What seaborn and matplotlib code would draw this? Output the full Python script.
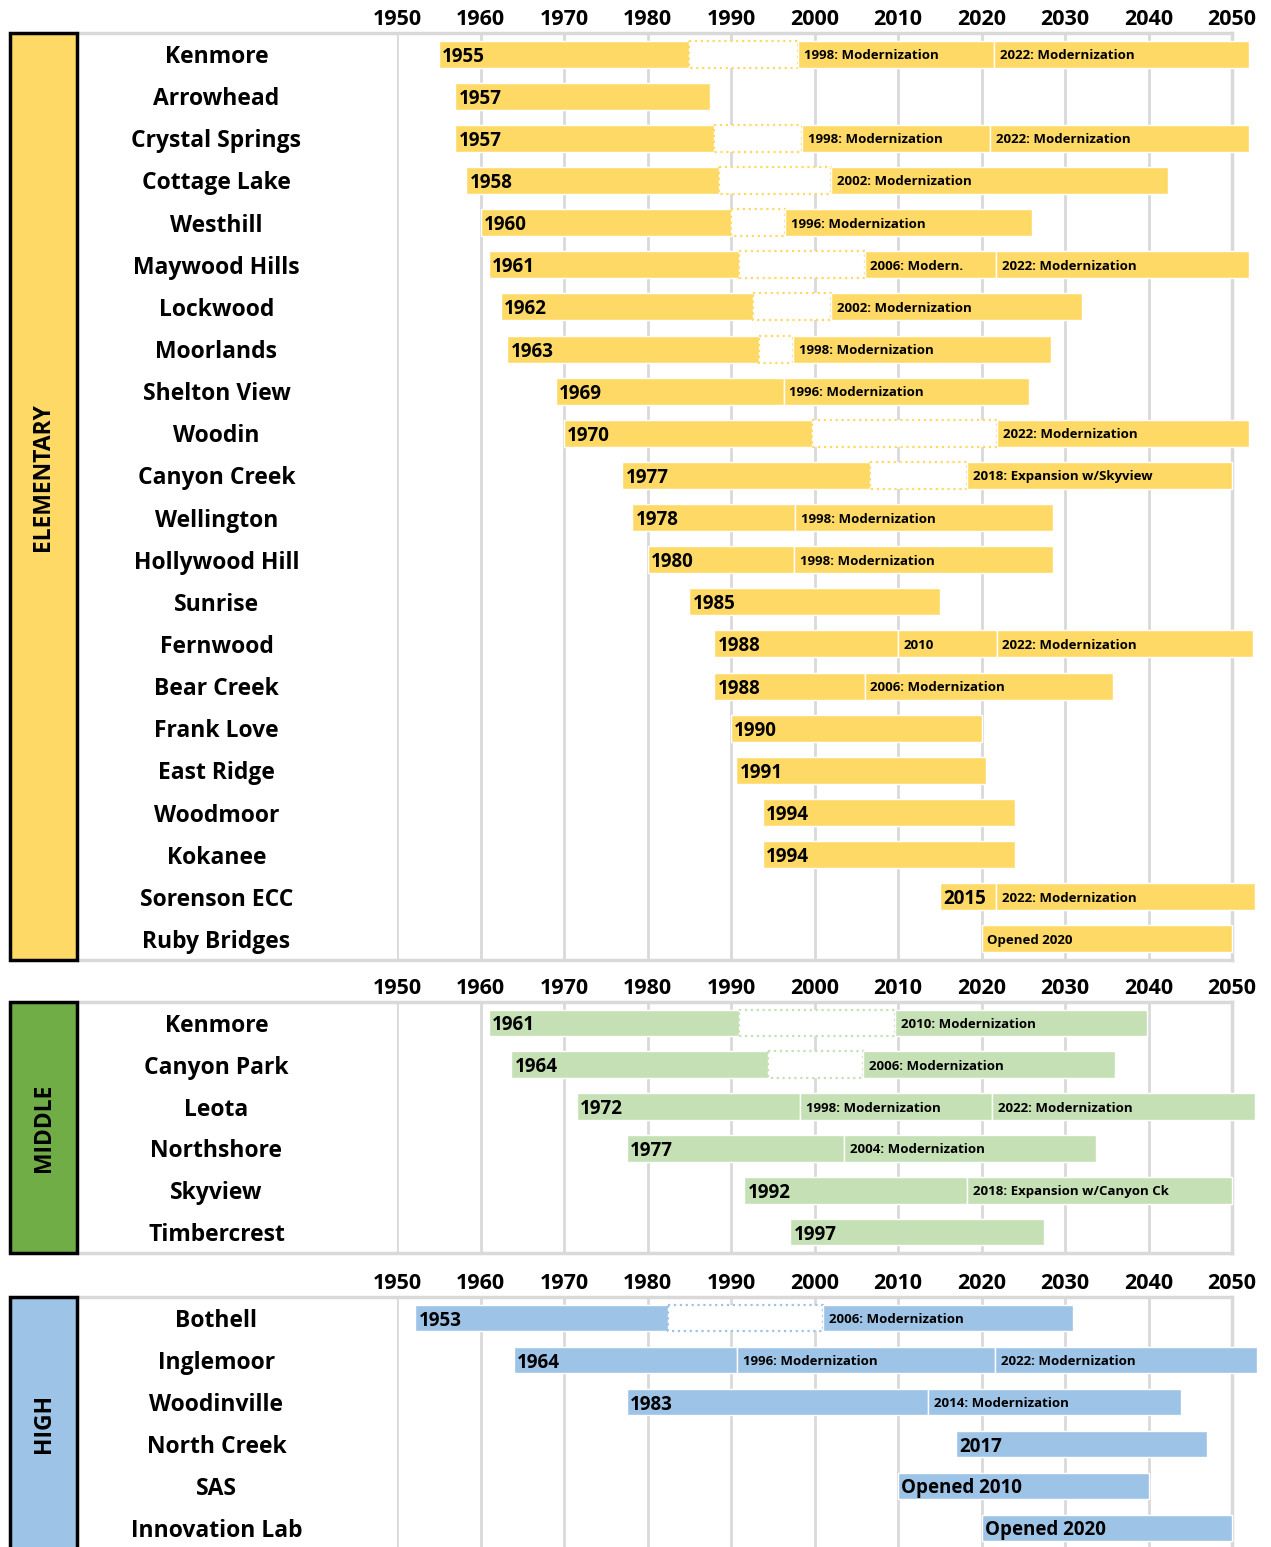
import matplotlib
matplotlib.use("Agg")
import matplotlib.pyplot as plt
from matplotlib.patches import Rectangle
import seaborn as sns

W, H = 1271, 1547

# ---------- DATA ----------
decades = list(range(1950, 2051, 10))

# each school: boundary years of its segments; label None = vacant (dotted) period
elem_names = ["Kenmore", "Arrowhead", "Crystal Springs", "Cottage Lake", "Westhill",
              "Maywood Hills", "Lockwood", "Moorlands", "Shelton View", "Woodin",
              "Canyon Creek", "Wellington", "Hollywood Hill", "Sunrise", "Fernwood",
              "Bear Creek", "Frank Love", "East Ridge", "Woodmoor", "Kokanee",
              "Sorenson ECC", "Ruby Bridges"]
elem_bounds = [
    [1955, 1985, 1998, 2021.5, 2052],
    [1957, 1987.5],
    [1957, 1988, 1998.5, 2021, 2052],
    [1958.3, 1988.6, 2002, 2042.3],
    [1960, 1990, 1996.5, 2026],
    [1961, 1991, 2006, 2021.7, 2052],
    [1962.4, 1992.6, 2002, 2032],
    [1963.2, 1993.4, 1997.4, 2028.3],
    [1969, 1996.3, 2025.7],
    [1970, 1999.7, 2021.9, 2052],
    [1977, 2006.6, 2018.3, 2050],
    [1978.2, 1997.7, 2028.6],
    [1980, 1997.6, 2028.6],
    [1985, 2015],
    [1988, 2010, 2021.8, 2052.5],
    [1988, 2006, 2035.7],
    [1990, 2020],
    [1990.6, 2020.5],
    [1993.8, 2024],
    [1993.8, 2024],
    [2015, 2021.7, 2052.8],
    [2020, 2050],
]
elem_labels = [
    ["1955", None, "1998: Modernization", "2022: Modernization"],
    ["1957"],
    ["1957", None, "1998: Modernization", "2022: Modernization"],
    ["1958", None, "2002: Modernization"],
    ["1960", None, "1996: Modernization"],
    ["1961", None, "2006: Modern.", "2022: Modernization"],
    ["1962", None, "2002: Modernization"],
    ["1963", None, "1998: Modernization"],
    ["1969", "1996: Modernization"],
    ["1970", None, "2022: Modernization"],
    ["1977", None, "2018: Expansion w/Skyview"],
    ["1978", "1998: Modernization"],
    ["1980", "1998: Modernization"],
    ["1985"],
    ["1988", "2010", "2022: Modernization"],
    ["1988", "2006: Modernization"],
    ["1990"],
    ["1991"],
    ["1994"],
    ["1994"],
    ["2015", "2022: Modernization"],
    ["Opened 2020"],
]

mid_names = ["Kenmore", "Canyon Park", "Leota", "Northshore", "Skyview", "Timbercrest"]
mid_bounds = [
    [1961, 1991, 2009.7, 2039.8],
    [1963.7, 1994.4, 2005.8, 2036],
    [1971.5, 1998.3, 2021.3, 2052.7],
    [1977.5, 2003.5, 2033.7],
    [1991.6, 2018.3, 2050],
    [1997.1, 2027.5],
]
mid_labels = [
    ["1961", None, "2010: Modernization"],
    ["1964", None, "2006: Modernization"],
    ["1972", "1998: Modernization", "2022: Modernization"],
    ["1977", "2004: Modernization"],
    ["1992", "2018: Expansion w/Canyon Ck"],
    ["1997"],
]

high_names = ["Bothell", "Inglemoor", "Woodinville", "North Creek", "SAS", "Innovation Lab"]
high_bounds = [
    [1952.2, 1982.5, 2001, 2031],
    [1964, 1990.7, 2021.6, 2053],
    [1977.5, 2013.6, 2043.9],
    [2016.9, 2047],
    [2010, 2040],
    [2020, 2050],
]
high_labels = [
    ["1953", None, "2006: Modernization"],
    ["1964", "1996: Modernization", "2022: Modernization"],
    ["1983", "2014: Modernization"],
    ["2017"],
    ["Opened 2010"],
    ["Opened 2020"],
]

# first labels drawn in the small font
small_first = [("ELEMENTARY", "Ruby Bridges")]

# ---------- STYLE ----------
sns.set_theme(style="white")
plt.rcParams["font.family"] = ["Open Sans", "DejaVu Sans"]
plt.rcParams["font.weight"] = "bold"
plt.rcParams["text.color"] = "black"
plt.rcParams["xtick.color"] = "black"
plt.rcParams["ytick.color"] = "black"

GRID = "#D9D9D9"

fig = plt.figure(figsize=(W / 100, H / 100), dpi=100)


def draw_panel(title, names, bounds, labels, bar_color, box_color, top, bottom, title_y):
    # gray frame round names + timeline
    frame = fig.add_axes([78 / W, 1 - bottom / H, (1232 - 78) / W, (bottom - top) / H])
    frame.set_xticks([])
    frame.set_yticks([])
    for sp in frame.spines.values():
        sp.set_color(GRID)
        sp.set_linewidth(2.5)
    frame.spines["left"].set_visible(False)

    ax = fig.add_axes([397 / W, 1 - bottom / H, (1232 - 397) / W, (bottom - top) / H])
    ax.patch.set_alpha(0)
    ax.set_xlim(1950, 2050)
    ax.set_ylim(len(names) - 0.5, -0.5)
    ax.set_xticks(decades)
    ax.xaxis.tick_top()
    ax.tick_params(axis="x", length=0, pad=2, labelsize=15.5, labelcolor="black")
    ax.grid(axis="x", color=GRID, lw=2)
    ax.set_axisbelow(True)
    for sp in ax.spines.values():
        sp.set_visible(False)
    ax.set_yticks(range(len(names)))
    ax.set_yticklabels(names, fontsize=16.5, fontweight="bold")
    ax.tick_params(axis="y", length=0, pad=130, labelcolor="black")
    for t in ax.get_yticklabels():
        t.set_ha("center")

    for i, (b, labs) in enumerate(zip(bounds, labels)):
        for j, lab in enumerate(labs):
            left, width = b[j], b[j + 1] - b[j]
            if lab is None:
                ax.barh(i, width, left=left, height=0.64, color="white",
                        edgecolor=bar_color, lw=1.6, ls=":", clip_on=False, zorder=2)
                continue
            ax.barh(i, width, left=left, height=0.64, color=bar_color,
                    edgecolor="white", lw=1, clip_on=False, zorder=2)
            big = j == 0 and (title, names[i]) not in small_first
            ax.text(left + (0.4 if big else 0.7), i, lab, va="center_baseline", ha="left",
                    fontsize=13.5 if big else 9.5, fontweight="bold", color="black", zorder=3)

    # colored category box
    fig.add_artist(Rectangle((10 / W, 1 - bottom / H), 67 / W, (bottom - top) / H,
                             transform=fig.transFigure, facecolor=box_color,
                             edgecolor="black", lw=2.5))
    fig.text(43.5 / W, 1 - title_y / H, title, rotation=90, color="black",
             ha="center", va="center", fontsize=16.5, fontweight="bold")


draw_panel("ELEMENTARY", elem_names, elem_bounds, elem_labels,
           "#FFD966", "#FFD966", 33, 960, 477)
draw_panel("MIDDLE", mid_names, mid_bounds, mid_labels,
           "#C5E0B4", "#70AD47", 1002, 1253, 1128)
draw_panel("HIGH", high_names, high_bounds, high_labels,
           "#9DC3E6", "#9DC3E6", 1297, 1549, 1423)

fig.savefig("out.png", dpi=100)
